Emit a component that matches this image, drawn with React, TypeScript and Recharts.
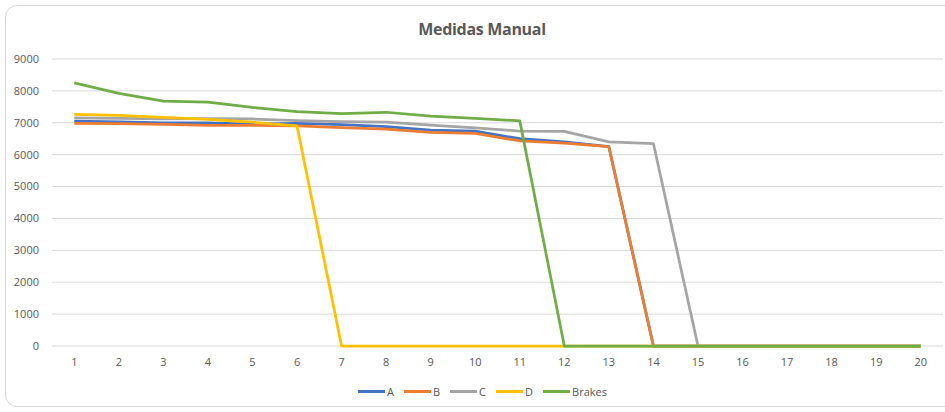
import React from 'react';
import { LineChart, Line, XAxis, YAxis, CartesianGrid } from 'recharts';

const positions = [1, 2, 3, 4, 5, 6, 7, 8, 9, 10, 11, 12, 13, 14, 15, 16, 17, 18, 19, 20];
const yTicks = [0, 1000, 2000, 3000, 4000, 5000, 6000, 7000, 8000, 9000];

const seriesA = [7050, 7030, 7000, 7000, 6960, 6980, 6940, 6880, 6770, 6740, 6500, 6400, 6250, 0, 0, 0, 0, 0, 0, 0];
const seriesB = [6980, 6970, 6950, 6920, 6920, 6900, 6850, 6800, 6700, 6670, 6430, 6360, 6250, 0, 0, 0, 0, 0, 0, 0];
const seriesC = [7150, 7140, 7120, 7130, 7120, 7070, 7040, 7020, 6930, 6840, 6740, 6730, 6400, 6350, 0, 0, 0, 0, 0, 0];
const seriesD = [7260, 7230, 7170, 7110, 7020, 6900, 0, 0, 0, 0, 0, 0, 0, 0, 0, 0, 0, 0, 0, 0];
const brakes = [8250, 7920, 7680, 7650, 7480, 7350, 7290, 7330, 7210, 7140, 7060, 0, 0, 0, 0, 0, 0, 0, 0, 0];

const series = [
  { key: 'A', color: '#4472C4' },
  { key: 'B', color: '#ED7D31' },
  { key: 'C', color: '#A5A5A5' },
  { key: 'D', color: '#FFC000' },
  { key: 'Brakes', color: '#70AD47' },
];

const data = positions.map((x, i) => ({
  x,
  A: seriesA[i],
  B: seriesB[i],
  C: seriesC[i],
  D: seriesD[i],
  Brakes: brakes[i],
}));

const font = '"Open Sans", "Liberation Sans", sans-serif';
const textColor = '#595959';

export default function App() {
  return (
    <div style={{ position: 'relative', width: 945, height: 412, overflow: 'hidden', background: '#fff', fontFamily: font }}>
      <style>{'body{margin:0}'}</style>
      <div
        style={{
          position: 'absolute',
          left: 5,
          top: 5,
          width: 960,
          height: 402,
          border: '1px solid #d9d9d9',
          borderRadius: 12,
          boxSizing: 'border-box',
        }}
      />
      <div
        style={{
          position: 'absolute',
          top: 18,
          left: 19,
          width: 926,
          textAlign: 'center',
          fontSize: 16,
          fontWeight: 700,
          color: textColor,
          letterSpacing: -0.3,
        }}
      >
        Medidas Manual
      </div>
      <div style={{ position: 'absolute', left: 0, top: 0 }}>
        <LineChart width={945} height={412} data={data} margin={{ top: 59, right: 2, bottom: 36, left: 0 }}>
          <CartesianGrid vertical={false} stroke="#d9d9d9" />
          <XAxis
            dataKey="x"
            type="number"
            domain={[0.5, 20.5]}
            ticks={positions}
            interval={0}
            tickLine={false}
            axisLine={false}
            tickMargin={6}
            height={30}
            tick={{ fill: textColor, fontSize: 11, fontFamily: font }}
          />
          <YAxis
            domain={[0, 9000]}
            ticks={yTicks}
            width={52}
            tickLine={false}
            axisLine={false}
            tickMargin={7}
            tick={{ fill: textColor, fontSize: 11, fontFamily: font }}
          />
          {series.map((s) => (
            <Line
              key={s.key}
              dataKey={s.key}
              stroke={s.color}
              strokeWidth={2.75}
              dot={false}
              isAnimationActive={false}
              strokeLinejoin="round"
            />
          ))}
        </LineChart>
      </div>
      <div
        style={{
          position: 'absolute',
          top: 384,
          left: 0,
          width: 945,
          display: 'flex',
          justifyContent: 'center',
          paddingLeft: 30,
          boxSizing: 'border-box',
          fontSize: 11,
          color: textColor,
        }}
      >
        {series.map((s) => (
          <div key={s.key} style={{ display: 'flex', alignItems: 'center', marginRight: 10 }}>
            <span style={{ display: 'inline-block', width: 27, height: 3, background: s.color, marginRight: 2 }} />
            <span>{s.key}</span>
          </div>
        ))}
      </div>
    </div>
  );
}
